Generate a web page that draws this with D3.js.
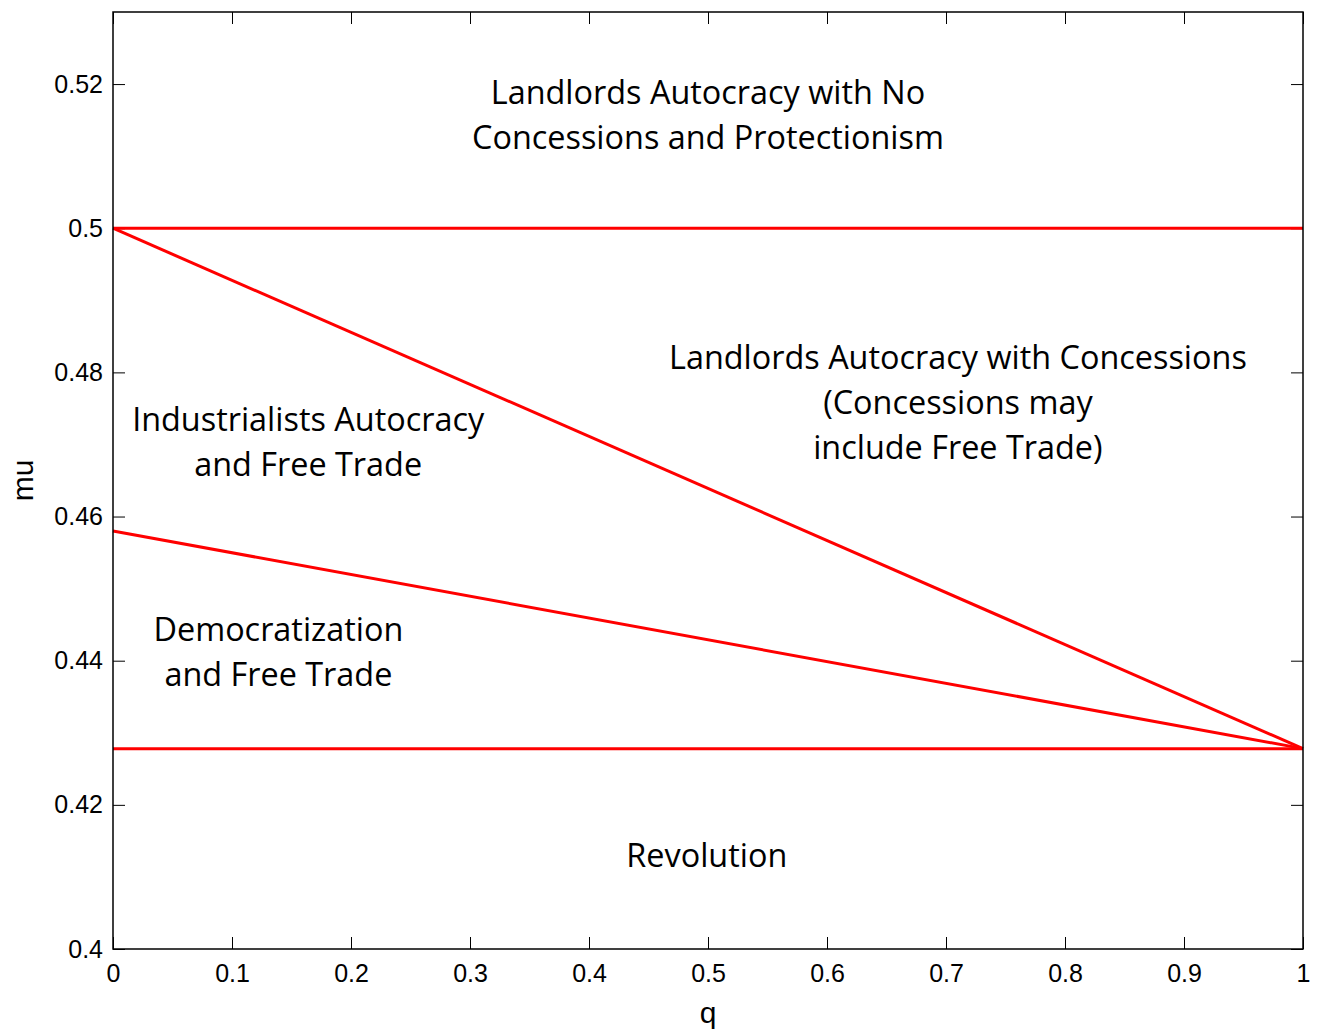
<!DOCTYPE html>
<html>
<head>
<meta charset="utf-8">
<script src="https://cdn.jsdelivr.net/npm/d3@7"></script>
<style>
  body { margin: 0; background: #fff; }
  svg { display: block; }
</style>
</head>
<body>
<script>
// boundary lines, each from q=0 to q=1
const lineNames = ["top", "diag", "lower", "bottom"];
const lineStart = [0.5, 0.5, 0.458, 0.4278];
const lineEnd = [0.5, 0.4278, 0.4278, 0.4278];

const xTicks = [0, 0.1, 0.2, 0.3, 0.4, 0.5, 0.6, 0.7, 0.8, 0.9, 1];
const yTicks = [0.4, 0.42, 0.44, 0.46, 0.48, 0.5, 0.52];

// region labels (position of first text line centre)
const labelLines = [
  ["Landlords Autocracy with No", "Concessions and Protectionism"],
  ["Landlords Autocracy with Concessions", "(Concessions may", "include Free Trade)"],
  ["Industrialists Autocracy", "and Free Trade"],
  ["Democratization", "and Free Trade"],
  ["Revolution"]
];
const labelQ = [0.5, 0.71, 0.164, 0.139, 0.499];
const labelMu = [0.5188, 0.482, 0.4734, 0.4443, 0.413];

const width = 1317, height = 1030;
const margin = {top: 12, right: 14, bottom: 81, left: 113};

const svg = d3.select("body").append("svg")
  .attr("width", width)
  .attr("height", height);

const x = d3.scaleLinear().domain([0, 1]).range([margin.left, width - margin.right]);
const y = d3.scaleLinear().domain([0.4, 0.53]).range([height - margin.bottom, margin.top]);

const tickFont = "'Liberation Sans', Arial, sans-serif";

// axes with inward ticks, mirrored on top/right
svg.append("g")
  .attr("transform", `translate(0,${y(0.4)})`)
  .call(d3.axisBottom(x).tickValues(xTicks).tickSize(-12).tickPadding(15).tickFormat(d3.format("")))
  .call(g => g.select(".domain").remove());
svg.append("g")
  .attr("transform", `translate(0,${y(0.53)})`)
  .call(d3.axisTop(x).tickValues(xTicks).tickSize(-12).tickFormat(""))
  .call(g => g.select(".domain").remove());
svg.append("g")
  .attr("transform", `translate(${x(0)},0)`)
  .call(d3.axisLeft(y).tickValues(yTicks).tickSize(-12).tickPadding(10).tickFormat(d3.format("")))
  .call(g => g.select(".domain").remove());
svg.append("g")
  .attr("transform", `translate(${x(1)},0)`)
  .call(d3.axisRight(y).tickValues(yTicks).tickSize(-12).tickFormat(""))
  .call(g => g.select(".domain").remove());

svg.selectAll(".tick line").attr("stroke", "#000").attr("stroke-width", 1);
svg.selectAll(".tick text")
  .attr("font-family", tickFont)
  .attr("font-size", 25)
  .attr("fill", "#000");

// red boundaries
svg.selectAll("line.bound")
  .data(lineNames)
  .join("line")
  .attr("class", "bound")
  .attr("x1", x(0))
  .attr("x2", x(1))
  .attr("y1", (d, i) => y(lineStart[i]))
  .attr("y2", (d, i) => y(lineEnd[i]))
  .attr("stroke", "#ff0000")
  .attr("stroke-width", 3)
  .attr("stroke-linecap", "butt");

// box
svg.append("rect")
  .attr("x", x(0))
  .attr("y", y(0.53))
  .attr("width", x(1) - x(0))
  .attr("height", y(0.4) - y(0.53))
  .attr("fill", "none")
  .attr("stroke", "#000")
  .attr("stroke-width", 1.5);

// region labels
const labels = svg.selectAll("text.region")
  .data(labelLines)
  .join("text")
  .attr("class", "region")
  .attr("font-family", "'Open Sans', sans-serif")
  .attr("font-size", 32.4)
  .attr("text-anchor", "middle")
  .attr("fill", "#000");

labels.selectAll("tspan")
  .data((d, i) => d.map((t, j) => ({t, j, i})))
  .join("tspan")
  .attr("x", d => x(labelQ[d.i]))
  .attr("y", d => y(labelMu[d.i]) + d.j * 45)
  .attr("dy", "0.35em")
  .text(d => d.t);

// axis titles
svg.append("text")
  .attr("x", x(0.5))
  .attr("y", 1012)
  .attr("dy", "0.35em")
  .attr("text-anchor", "middle")
  .attr("font-family", tickFont)
  .attr("font-size", 30)
  .text("q");

svg.append("text")
  .attr("transform", `translate(22,${y(0.465)}) rotate(-90)`)
  .attr("dy", "0.35em")
  .attr("text-anchor", "middle")
  .attr("font-family", tickFont)
  .attr("font-size", 30)
  .text("mu");
</script>
</body>
</html>
